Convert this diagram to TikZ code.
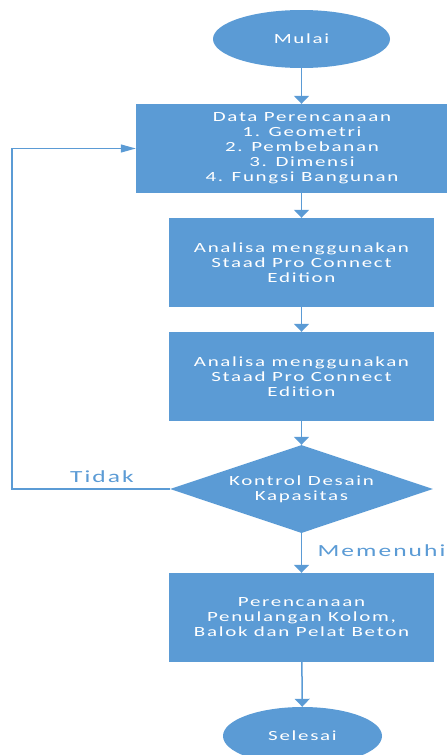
\documentclass[tikz,border=0pt]{standalone}
\usepackage{fontspec}
\setmainfont{Carlito}
\newfontfamily\flowfont[FakeStretch=1.5,LetterSpace=12]{Carlito}
\usetikzlibrary{shapes.geometric,arrows.meta}
\definecolor{flowblue}{HTML}{5B9BD5}

\begin{document}
\begin{tikzpicture}[
        x=1pt, y=-1pt,
        >={Triangle[width=15pt,length=8pt]}, % arrow tip (vertical)
        line/.style={draw=flowblue, line width=1.5pt, ->},
        backline/.style={draw=flowblue, line width=1.1pt, -{Triangle[width=8pt,length=15pt]}},
        prosesbox/.style={rectangle, fill=flowblue, text=white, align=center,
            minimum width=265pt, minimum height=89pt, inner sep=0pt,
            font=\flowfont\fontsize{14}{15}\selectfont},
        terminal/.style={ellipse, fill=flowblue, text=white, inner sep=0pt,
            font=\flowfont\fontsize{14}{15}\selectfont},
        decision/.style={diamond, aspect=3, fill=flowblue, text=white, align=center,
            minimum width=263pt, minimum height=88pt, inner sep=0pt,
            font=\flowfont\fontsize{14}{15}\selectfont},
        label/.style={text=flowblue, font=\flowfont\fontsize{17}{19}\selectfont}
    ]
    \useasboundingbox (0,0) rectangle (447,755);

    % start
    \node[terminal, minimum width=177pt, minimum height=58pt] (mulai) at (301.5,39) {Mulai};

    % data
    \node[prosesbox, minimum width=332pt] (data) at (302,148.5)
        {Data Perencanaan\\1. Geometri\\2. Pembebanan\\3. Dimensi\\4. Fungsi Bangunan};

    % analisa
    \node[prosesbox] (analisa1) at (301.5,262.5)
        {Analisa menggunakan\\Staad Pro Connect\\Edition};
    \node[prosesbox] (analisa2) at (301.5,376.5)
        {Analisa menggunakan\\Staad Pro Connect\\Edition};

    % kontrol
    \node[decision] (kontrol) at (301.5,489) {Kontrol Desain\\Kapasitas};

    % perencanaan
    \node[prosesbox] (penulangan) at (301.5,617.5)
        {Perencanaan\\Penulangan Kolom,\\Balok dan Pelat Beton};

    % end
    \node[terminal, minimum width=159pt, minimum height=58pt] (selesai) at (302.5,736) {Selesai};

    % arrows
    \draw[line] (mulai) -- (mulai |- data.north);
    \draw[line] (data.south -| analisa1) -- (analisa1);
    \draw[line] (analisa1) -- (analisa2);
    \draw[line] (analisa2) -- (kontrol);
    \draw[line] (kontrol) -- (penulangan) node[pos=0.45, right=12pt, label] {Memenuhi};
    \draw[line] (penulangan) -- (selesai);

    % loop back
    \coordinate (sudut) at (12,489);
    \draw[backline] (kontrol.west) -- (sudut) |- (data.west);
    \node[label] (tidak) at (102,477) {Tidak};

\end{tikzpicture}
\end{document}
